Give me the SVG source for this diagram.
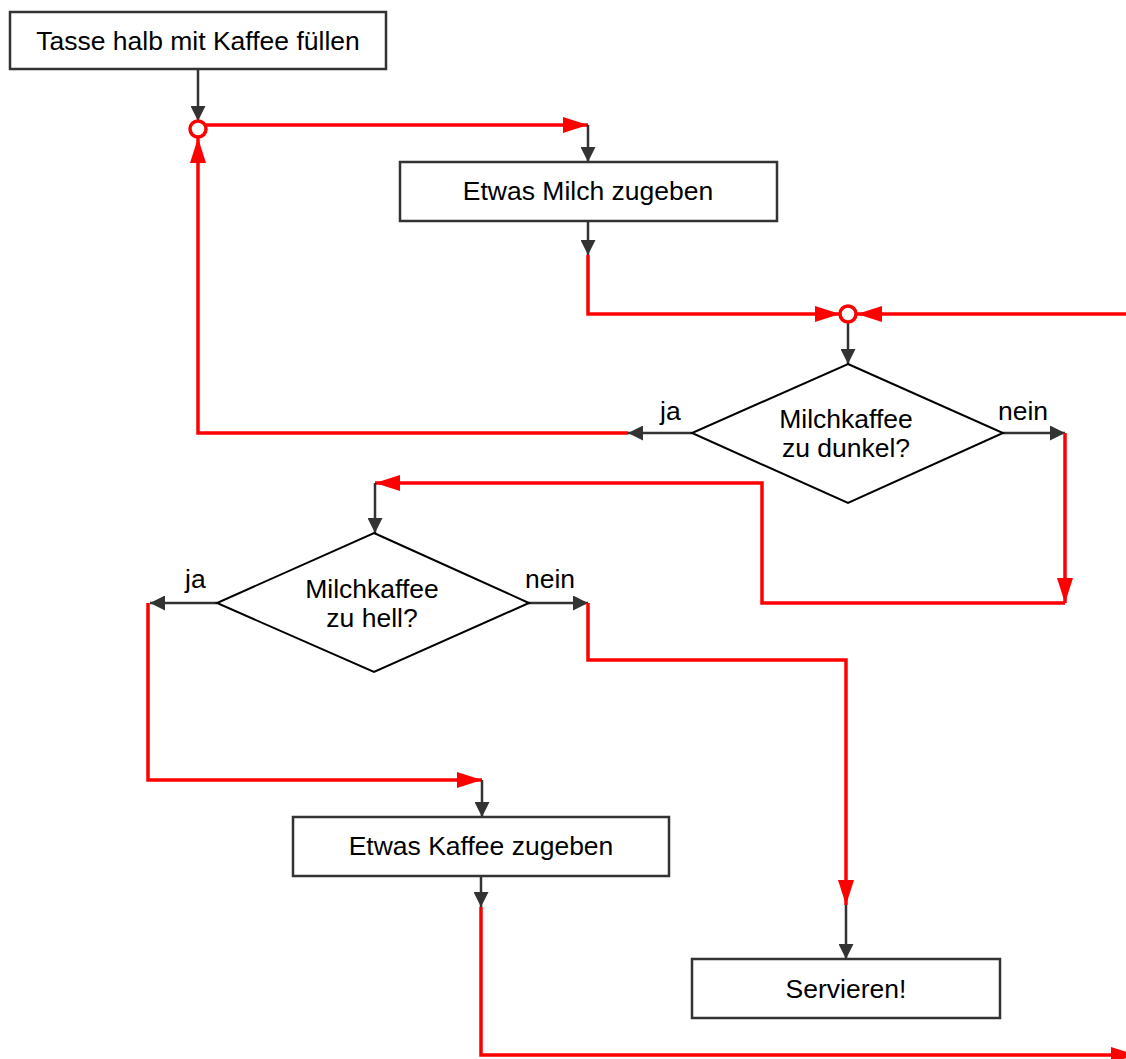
<svg xmlns="http://www.w3.org/2000/svg" width="1126" height="1059" viewBox="0 0 1126 1059">
<style>
.box{fill:#fff;stroke:#333;stroke-width:2.5}
.dia{fill:#fff;stroke:#000;stroke-width:2}
.t{font-family:"Liberation Sans",Arial,sans-serif;font-size:26.5px;fill:#000;text-anchor:middle}
.lbl{font-family:"Liberation Sans",Arial,sans-serif;font-size:26.5px;fill:#000}
.dk{fill:none;stroke:#333;stroke-width:2.5;marker-end:url(#ad)}
.rd{fill:none;stroke:#f00;stroke-width:3.5;marker-end:url(#ar)}
.junc{fill:#fff;stroke:#f00;stroke-width:3.5}
</style>
<defs>
<marker id="ad" markerUnits="userSpaceOnUse" markerWidth="15" markerHeight="15" refX="15" refY="7.5" orient="auto"><path d="M0,0 L15,7.5 L0,15 z" fill="#333"/></marker>
<marker id="ar" markerUnits="userSpaceOnUse" markerWidth="25" markerHeight="16" refX="25" refY="8" orient="auto"><path d="M0,0 L25,8 L0,16 z" fill="#f00"/></marker>
</defs>
<rect width="1126" height="1059" fill="#fff"/>
<g id="connectors">
<path class="dk" d="M198,70 V121"/>
<path class="rd" d="M206,125 H588"/>
<path class="dk" d="M588,125 V162"/>
<path class="dk" d="M588,221 V255"/>
<path class="rd" d="M588,255 V314 H840"/>
<path class="rd" d="M1126,314 H857"/>
<path class="dk" d="M848,322 V364"/>
<path class="dk" d="M692,433 H628"/>
<path class="rd" d="M628,433 H198 V138"/>
<path class="dk" d="M1003,433 H1065"/>
<path class="rd" d="M1065,433 V603"/>
<path class="rd" d="M1065,603 H762 V483 H375"/>
<path class="dk" d="M375,483 V533"/>
<path class="dk" d="M217,603 H150"/>
<path class="rd" d="M148,603 V780 H482"/>
<path class="dk" d="M482,780 V817"/>
<path class="dk" d="M481,876 V907"/>
<path class="rd" d="M481,907 V1055 H1136"/>
<path class="dk" d="M528,603 H588"/>
<path class="rd" d="M588,603 V660 H846 V905"/>
<path class="dk" d="M846,905 V959"/>
</g>
<g id="junction1"><circle class="junc" cx="198" cy="129" r="8"/></g>
<g id="junction2"><circle class="junc" cx="848" cy="314" r="8"/></g>
<g id="box1"><rect class="box" x="10" y="12" width="376" height="57"/><text class="t" x="198" y="50">Tasse halb mit Kaffee füllen</text></g>
<g id="box2"><rect class="box" x="400" y="162" width="377" height="59"/><text class="t" x="588" y="200">Etwas Milch zugeben</text></g>
<g id="dec1"><polygon class="dia" points="848,364 1003,433 848,503 692,433"/><text class="t" x="846" y="428">Milchkaffee</text><text class="t" x="846" y="457">zu dunkel?</text><text class="lbl" x="660" y="420">ja</text><text class="lbl" x="998" y="420">nein</text></g>
<g id="dec2"><polygon class="dia" points="374,533 529,603 374,672 217,603"/><text class="t" x="372" y="598">Milchkaffee</text><text class="t" x="372" y="627">zu hell?</text><text class="lbl" x="185" y="588">ja</text><text class="lbl" x="525" y="588">nein</text></g>
<g id="box3"><rect class="box" x="293" y="817" width="376" height="59"/><text class="t" x="481" y="855">Etwas Kaffee zugeben</text></g>
<g id="box4"><rect class="box" x="692" y="959" width="308" height="59"/><text class="t" x="846" y="998">Servieren!</text></g>
</svg>
